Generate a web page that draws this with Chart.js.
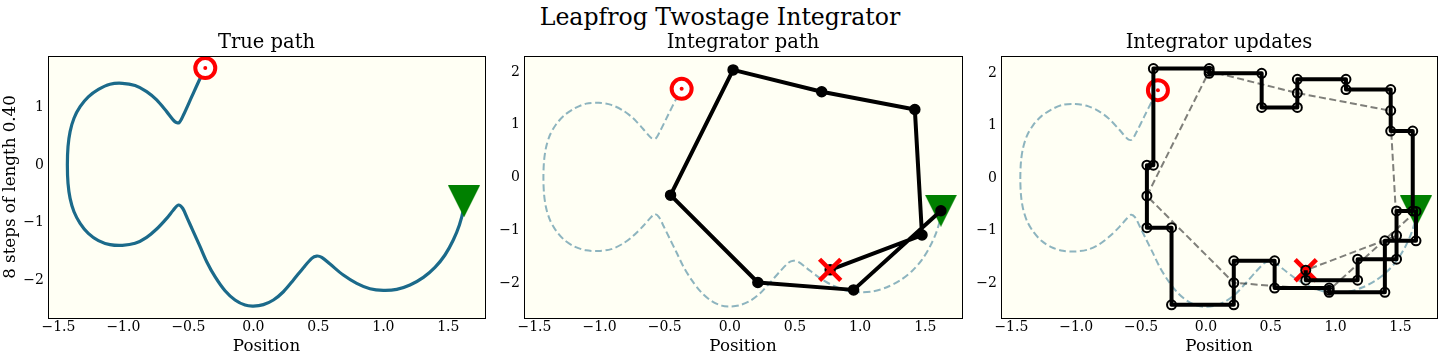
<!DOCTYPE html>
<html>
<head>
<meta charset="utf-8">
<title>Leapfrog Twostage Integrator</title>
<script src="https://cdn.jsdelivr.net/npm/chart.js@4.4.1/dist/chart.umd.min.js"></script>
<style>
  body { margin: 0; background: #fff; }
  #fig { position: relative; width: 1440px; height: 360px; overflow: hidden; font-family: 'DejaVu Serif', serif; }
  #suptitle { position: absolute; left: 0; top: 6px; width: 1440px; text-align: center; font-size: 23.6px; line-height: 1; color: #000; }
  .panel { position: absolute; top: 29px; height: 331px; }
</style>
</head>
<body>
<div id="fig">
  <div id="suptitle">Leapfrog Twostage Integrator</div>
  <div class="panel" style="left:0;width:492px"><canvas id="truePath"></canvas></div>
  <div class="panel" style="left:490px;width:478px"><canvas id="integratorPath"></canvas></div>
  <div class="panel" style="left:966px;width:474px"><canvas id="integratorUpdates"></canvas></div>
</div>
<script>
// Dados (posição x momento)

// caminho verdadeiro, do ponto inicial (triângulo) até o alvo vermelho
const truePathX = [1.62, 1.615, 1.585, 1.538, 1.474, 1.397, 1.308, 1.205, 1.103, 1.0,
  0.897, 0.795, 0.692, 0.59, 0.526, 0.487, 0.449, 0.385, 0.308, 0.231,
  0.154, 0.077, 0.0, -0.064, -0.141, -0.218, -0.295, -0.359, -0.41, -0.462,
  -0.508, -0.544, -0.577, -0.615, -0.667, -0.744, -0.821, -0.91, -1.008, -1.103,
  -1.192, -1.27, -1.333, -1.38, -1.41, -1.426, -1.431, -1.426, -1.41, -1.38,
  -1.333, -1.27, -1.192, -1.103, -1.008, -0.91, -0.821, -0.744, -0.667, -0.603,
  -0.572, -0.538, -0.474, -0.41, -0.37];
const truePathY = [-0.63, -0.78, -1.04, -1.30, -1.56, -1.775, -1.948, -2.08, -2.156, -2.173,
  -2.145, -2.052, -1.908, -1.717, -1.60, -1.578, -1.618, -1.78, -1.994, -2.197,
  -2.34, -2.42, -2.445, -2.428, -2.34, -2.18, -1.936, -1.676, -1.416, -1.156,
  -0.925, -0.75, -0.694, -0.78, -0.925, -1.11, -1.254, -1.358, -1.393, -1.38,
  -1.31, -1.185, -1.01, -0.81, -0.578, -0.318, 0, 0.318, 0.578, 0.81,
  1.01, 1.18, 1.31, 1.40, 1.416, 1.376, 1.272, 1.127, 0.925, 0.75,
  0.734, 0.867, 1.185, 1.50, 1.68];

// fim de cada um dos 8 passos do integrador (o primeiro é o ponto inicial)
const stepX = [1.62, 0.95, 0.215, -0.455, 0.025, 0.705, 1.42, 1.475, 0.77];
const stepY = [-0.63, -2.13, -1.99, -0.335, 2.04, 1.625, 1.29, -1.09, -1.75];

// todas as atualizações intermediárias (momento / posição alternados)
const updateX = [1.62, 1.62, 1.38, 1.38, 0.95, 0.95, 0.95, 0.53, 0.53, 0.215,
  0.215, 0.215, -0.265, -0.265, -0.455, -0.455, -0.455, -0.405, -0.405, 0.025,
  0.025, 0.025, 0.43, 0.43, 0.705, 0.705, 0.705, 1.08, 1.08, 1.425,
  1.425, 1.425, 1.595, 1.595, 1.47, 1.47, 1.47, 1.17, 1.17, 0.77, 0.77];
const updateY = [-0.63, -1.19, -1.19, -2.17, -2.17, -2.13, -2.09, -2.09, -1.57, -1.57,
  -1.99, -2.41, -2.41, -0.94, -0.94, -0.335, 0.25, 0.25, 2.09, 2.09,
  2.04, 2.0, 2.0, 1.35, 1.35, 1.625, 1.885, 1.885, 1.69, 1.69,
  1.29, 0.90, 0.90, -0.62, -0.62, -1.09, -1.54, -1.54, -1.94, -1.94, -1.75];

// ticks
const xTicks = [-1.5, -1.0, -0.5, 0.0, 0.5, 1.0, 1.5];
const xTickLabels = ['\u22121.5', '\u22121.0', '\u22120.5', '0.0', '0.5', '1.0', '1.5'];
const yTicks = [-2, -1, 0, 1, 2];
const yTickLabels = ['\u22122', '\u22121', '0', '1', '2'];

// limites dos eixos
const xLimits = [-1.58, 1.782];
const yLimitsTrue = [-2.652, 1.889];
const yLimitsPath = [-2.663, 2.303];
const yLimitsUpdates = [-2.66, 2.33];

const FACE = '#fffff4';
const PATH_COLOR = '#1b6a8a';
const FAMILY = "'DejaVu Serif', serif";
const tickFont = { family: FAMILY, size: 14 };
const labelFont = { family: FAMILY, size: 16.7, lineHeight: 1.2 };

Chart.defaults.font.family = FAMILY;
Chart.defaults.color = '#000';

function toPoints(xs, ys) {
    return xs.map((x, i) => ({ x: x, y: ys[i] }));
}

// triângulo para baixo, como o marcador 'v'
function triangleDown(size, color) {
    const c = document.createElement('canvas');
    c.width = size;
    c.height = size;
    const g = c.getContext('2d');
    g.fillStyle = color;
    g.beginPath();
    g.moveTo(0, 0);
    g.lineTo(size, 0);
    g.lineTo(size / 2, size);
    g.closePath();
    g.fill();
    return c;
}
const greenTriangle = triangleDown(32, '#008000');

// fundo e moldura da área do gráfico
const frame = {
    id: 'frame',
    beforeDraw(chart) {
        const a = chart.chartArea, ctx = chart.ctx;
        ctx.save();
        ctx.fillStyle = FACE;
        ctx.fillRect(a.left, a.top, a.right - a.left, a.bottom - a.top);
        ctx.restore();
    },
    afterDraw(chart) {
        const a = chart.chartArea, ctx = chart.ctx;
        ctx.save();
        ctx.strokeStyle = '#000';
        ctx.lineWidth = 1;
        ctx.strokeRect(a.left + 0.5, a.top + 0.5, a.right - a.left, a.bottom - a.top);
        ctx.restore();
    }
};

function makeScales(yLimits, yWidth, yTitle) {
    return {
        x: {
            type: 'linear',
            min: xLimits[0],
            max: xLimits[1],
            grid: { display: false, drawTicks: false },
            border: { display: false },
            afterBuildTicks: s => { s.ticks = xTicks.map(v => ({ value: v })); },
            afterFit: s => { s.height = 42; },
            ticks: {
                autoSkip: false, maxRotation: 0, padding: 1, font: tickFont,
                callback: v => xTickLabels[xTicks.indexOf(v)]
            },
            title: { display: true, text: 'Position', font: labelFont, padding: { top: 0, bottom: 3 } }
        },
        y: {
            type: 'linear',
            min: yLimits[0],
            max: yLimits[1],
            grid: { display: false, drawTicks: false },
            border: { display: false },
            afterBuildTicks: s => {
                s.ticks = yTicks.filter(v => v >= s.min && v <= s.max).map(v => ({ value: v }));
            },
            afterFit: s => { s.width = yWidth; },
            ticks: {
                autoSkip: false, padding: 4, font: tickFont,
                callback: v => yTickLabels[yTicks.indexOf(v)]
            },
            title: yTitle
                ? { display: true, text: yTitle, font: labelFont, padding: { top: 1, bottom: 0 } }
                : { display: false }
        }
    };
}

function makeOptions(title, yLimits, yWidth, padRight, yTitle) {
    return {
        responsive: true,
        maintainAspectRatio: false,
        animation: false,
        layout: { autoPadding: false, padding: { left: 0, right: padRight, top: 0, bottom: 0 } },
        scales: makeScales(yLimits, yWidth, yTitle),
        plugins: {
            legend: { display: false },
            tooltip: { enabled: false },
            title: {
                display: true,
                text: title,
                fullSize: false,
                font: { family: FAMILY, size: 19.5, weight: 'normal', lineHeight: 1.2 },
                padding: { top: 2.5, bottom: 1.1 }
            }
        }
    };
}

// conjuntos reutilizados
const lastTrue = truePathX.length - 1;
const startPoint = [{ x: stepX[0], y: stepY[0] }];
const targetPoint = [{ x: truePathX[lastTrue], y: truePathY[lastTrue] }];
const endPoint = [{ x: stepX[stepX.length - 1], y: stepY[stepY.length - 1] }];

function targetDatasets() {
    return [
        { data: targetPoint, pointStyle: 'circle', pointRadius: 2, pointBackgroundColor: '#ff0000', pointBorderWidth: 0 },
        { data: targetPoint, pointStyle: 'circle', pointRadius: 10, pointBackgroundColor: '#ffffff', pointBorderColor: '#ff0000', pointBorderWidth: 4 }
    ];
}
function startDataset() {
    return { data: startPoint, pointStyle: greenTriangle, pointRadius: 16 };
}
function endDataset() {
    return { data: endPoint, pointStyle: 'crossRot', pointRadius: 15, pointBorderColor: '#ff0000', pointBorderWidth: 4.5 };
}
function dashedTrueDataset() {
    return {
        data: toPoints(truePathX, truePathY), showLine: true, tension: 0.3,
        borderColor: 'rgba(27,106,138,0.5)', borderWidth: 2, borderDash: [7, 3.5], pointRadius: 0
    };
}

// Painel 1: caminho verdadeiro (o primeiro conjunto fica por cima)
new Chart(document.getElementById('truePath'), {
    type: 'scatter',
    data: {
        datasets: [
            ...targetDatasets(),
            startDataset(),
            {
                data: toPoints(truePathX, truePathY), showLine: true, tension: 0.3,
                borderColor: PATH_COLOR, borderWidth: 3.2, pointRadius: 0
            }
        ]
    },
    options: makeOptions('True path', yLimitsTrue, 48, 7, '8 steps of length 0.40'),
    plugins: [frame]
});

// Painel 2: caminho do integrador
new Chart(document.getElementById('integratorPath'), {
    type: 'scatter',
    data: {
        datasets: [
            endDataset(),
            {
                data: toPoints(stepX, stepY), showLine: true,
                borderColor: '#000', borderWidth: 4, borderJoinStyle: 'round',
                pointRadius: 5, pointBackgroundColor: '#000', pointBorderColor: '#000', pointBorderWidth: 1.5
            },
            ...targetDatasets(),
            startDataset(),
            dashedTrueDataset()
        ]
    },
    options: makeOptions('Integrator path', yLimitsPath, 34, 6),
    plugins: [frame]
});

// Painel 3: atualizações do integrador
new Chart(document.getElementById('integratorUpdates'), {
    type: 'scatter',
    data: {
        datasets: [
            {
                data: toPoints(updateX, updateY), showLine: true,
                borderColor: '#000', borderWidth: 4, borderJoinStyle: 'round',
                pointRadius: 4.5, pointBackgroundColor: 'rgba(0,0,0,0)', pointBorderColor: '#000', pointBorderWidth: 2
            },
            endDataset(),
            ...targetDatasets(),
            startDataset(),
            {
                data: toPoints(stepX, stepY), showLine: true,
                borderColor: 'rgba(0,0,0,0.5)', borderWidth: 2, borderDash: [7, 3.5], pointRadius: 0
            },
            dashedTrueDataset()
        ]
    },
    options: makeOptions('Integrator updates', yLimitsUpdates, 35, 3),
    plugins: [frame]
});
</script>
</body>
</html>
